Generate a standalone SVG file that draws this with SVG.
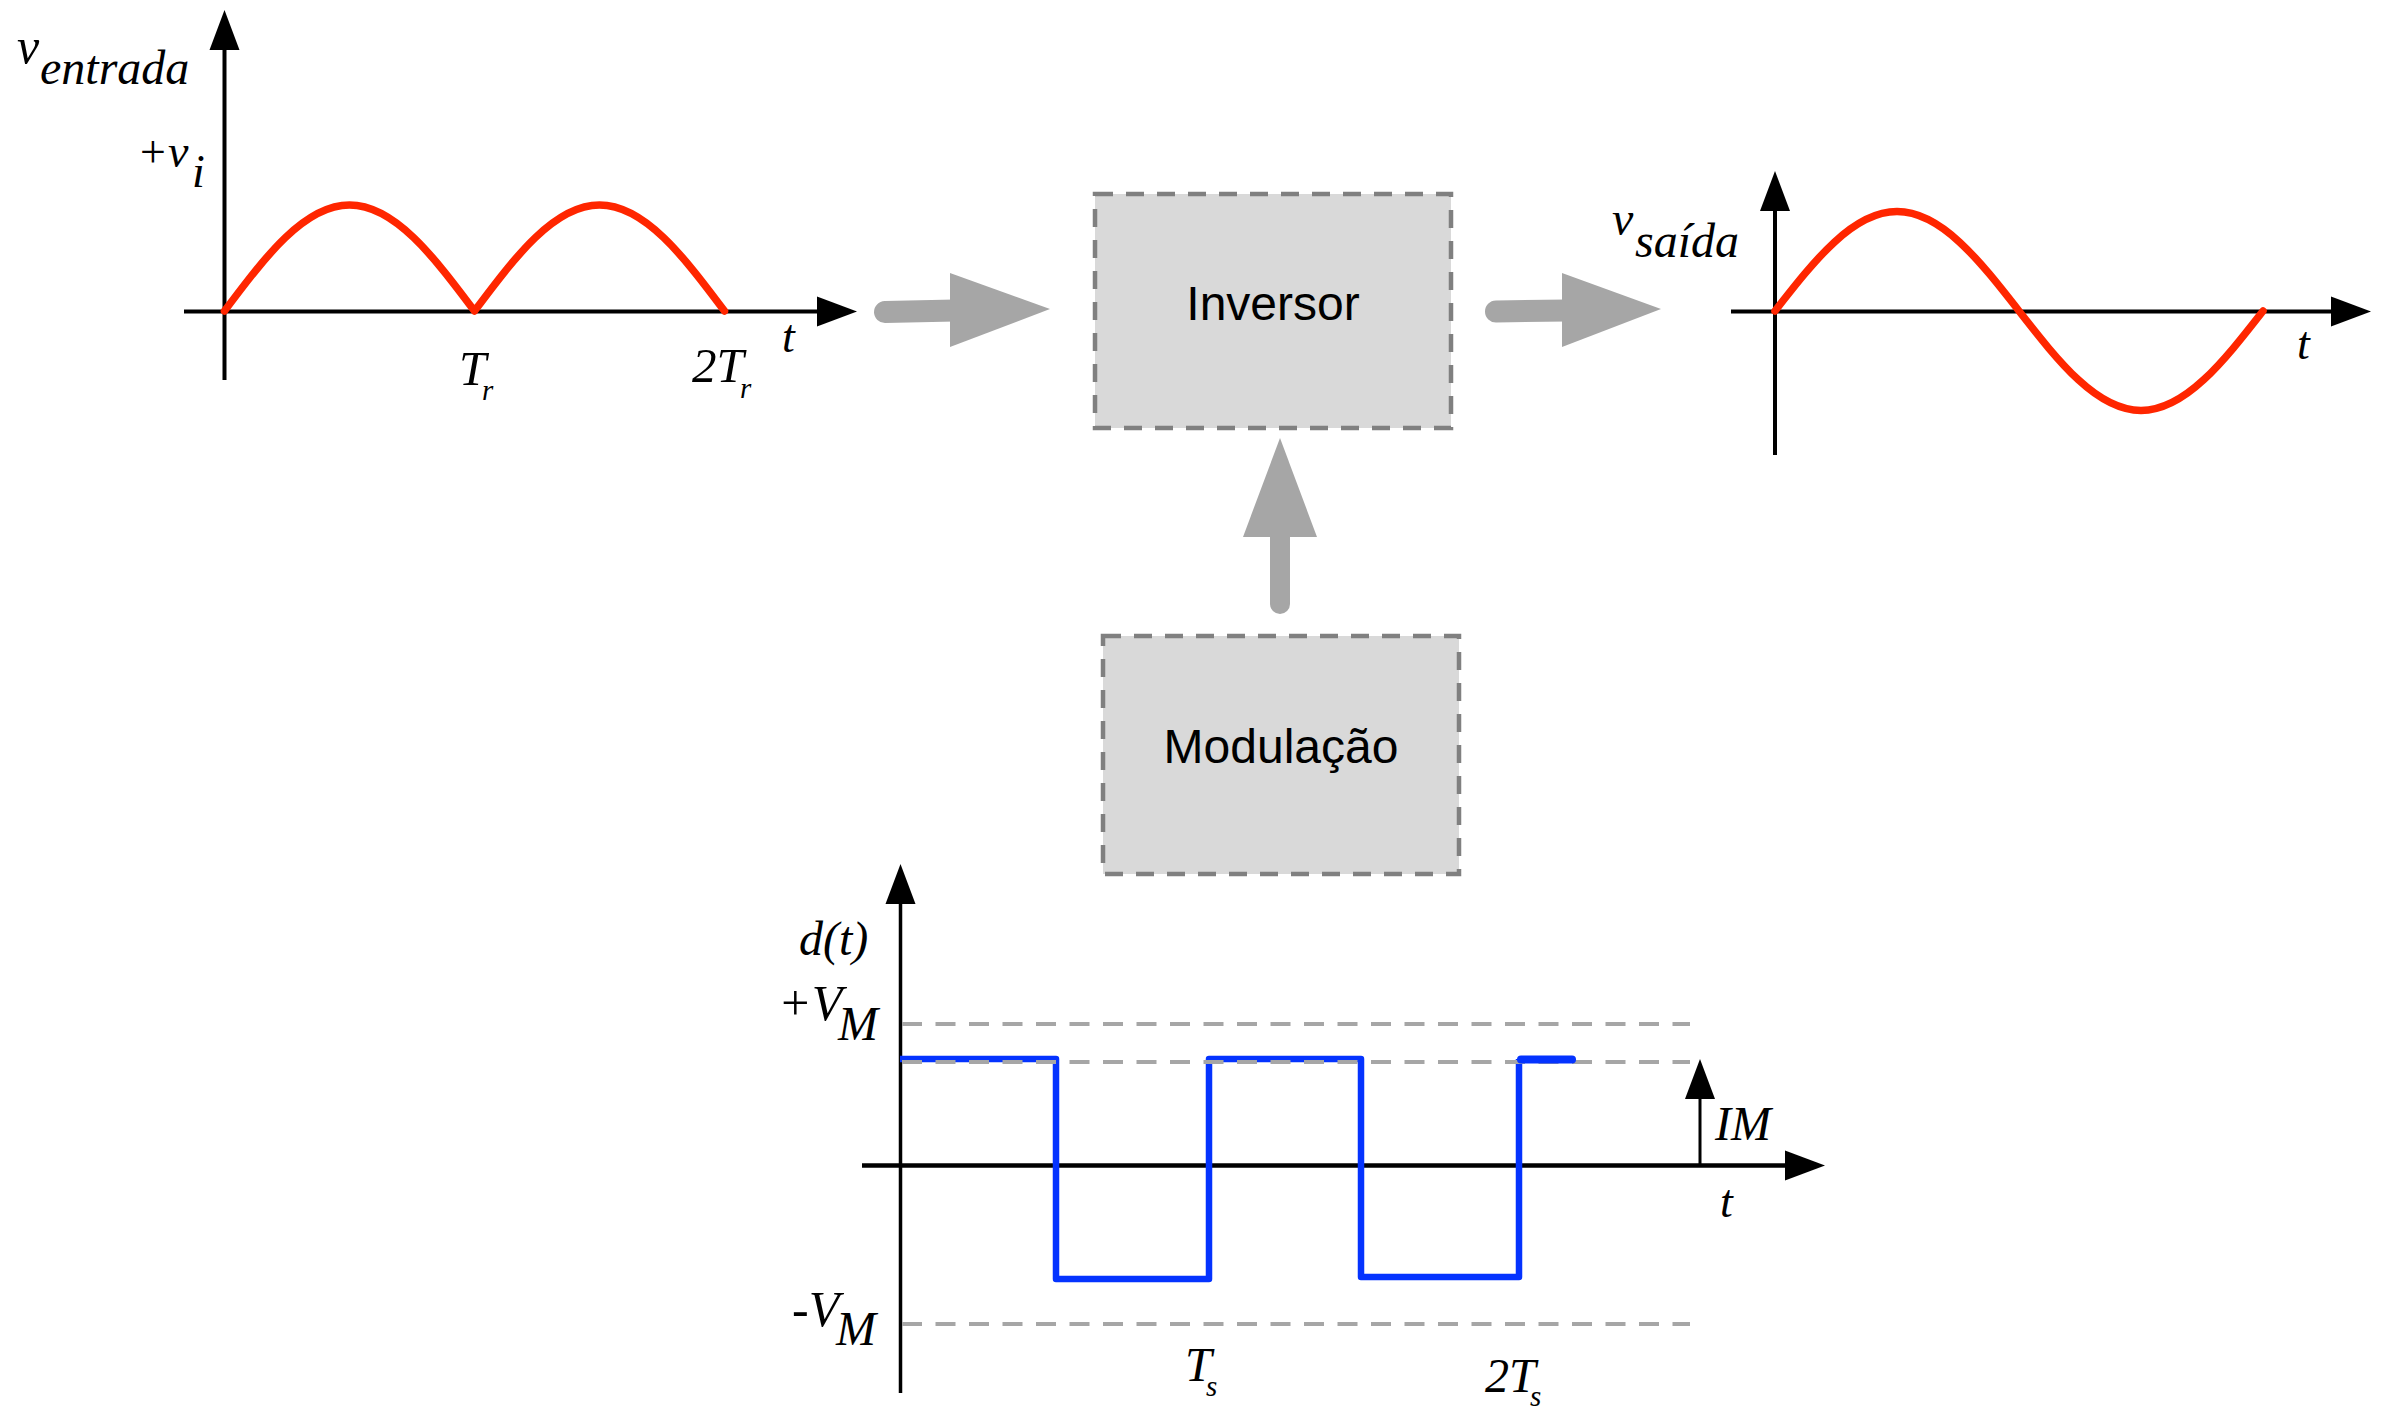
<svg xmlns="http://www.w3.org/2000/svg" width="2382" height="1411" viewBox="0 0 2382 1411">
<style>
.ax{stroke:#000;fill:none}
.lbl{font-family:"Liberation Serif","Times New Roman",serif;font-style:italic;fill:#000}
.box{fill:#d9d9d9;stroke:#808080;stroke-width:4.5;stroke-dasharray:18 13}
.sans{font-family:"Liberation Sans",Arial,sans-serif;font-size:48px;fill:#000;text-anchor:middle}
.red{fill:none;stroke:#ff2600;stroke-width:7.5;stroke-linecap:round;stroke-linejoin:round}
.gd{fill:none;stroke:#a6a6a6;stroke-width:4;stroke-dasharray:20 13.5}
.conn{fill:#a6a6a6}
.shaft{stroke:#a6a6a6;stroke-width:22;stroke-linecap:round;fill:none}
</style>
<defs>
<marker id="ah" markerUnits="userSpaceOnUse" markerWidth="40" markerHeight="30" refX="1" refY="15" orient="auto" overflow="visible">
<path d="M0,0 L40,15 L0,30 z" fill="#000"/>
</marker>
</defs>
<rect width="2382" height="1411" fill="#fff"/>

<g id="graph-entrada">
<line class="ax" stroke-width="4" x1="224.5" y1="380" x2="224.5" y2="49" marker-end="url(#ah)"/>
<line class="ax" stroke-width="4" x1="184" y1="311.5" x2="818" y2="311.5" marker-end="url(#ah)"/>
<path class="red" d="M224.5,311 C265.27,256.7 304.26,205 349.5,205 C394.74,205 433.73,256.7 474.5,311 C515.27,256.7 554.26,205 599.5,205 C644.74,205 683.73,256.7 724.5,311"/>
<text class="lbl" x="17" y="63" font-size="50">v<tspan x="40" y="84" font-size="48">entrada</tspan></text>
<text class="lbl" x="137" y="167" font-size="46">+v<tspan x="192" y="187">i</tspan></text>
<text class="lbl" x="782" y="352" font-size="46">t</text>
<text class="lbl" x="459" y="385" font-size="49">T<tspan x="482" y="400" font-size="29">r</tspan></text>
<text class="lbl" x="692" y="382" font-size="49">2T<tspan x="740" y="398" font-size="29">r</tspan></text>
</g>

<g id="graph-saida">
<line class="ax" stroke-width="4" x1="1775" y1="455" x2="1775" y2="210" marker-end="url(#ah)"/>
<line class="ax" stroke-width="4" x1="1731" y1="311.5" x2="2332" y2="311.5" marker-end="url(#ah)"/>
<path class="red" d="M1775,311 C1814.79,260.03 1852.85,211.5 1897,211.5 C1941.15,211.5 1979.21,260.03 2019,311 C2058.79,361.97 2096.85,410.5 2141,410.5 C2185.15,410.5 2223.21,361.97 2263,311"/>
<text class="lbl" x="1612" y="235" font-size="48">v<tspan x="1635" y="257">saída</tspan></text>
<text class="lbl" x="2297" y="359" font-size="46">t</text>
</g>

<g id="inversor">
<rect class="box" x="1095" y="194" width="356" height="234"/>
<text class="sans" x="1273" y="320">Inversor</text>
</g>

<g id="modulacao">
<rect class="box" x="1103" y="636" width="356" height="238"/>
<text class="sans" x="1281" y="763">Modulação</text>
</g>

<g id="connectors">
<line class="shaft" x1="885" y1="312" x2="955" y2="310.5"/>
<polygon class="conn" points="950,273 1050,309 950,347"/>
<line class="shaft" x1="1496" y1="311.5" x2="1567" y2="310.5"/>
<polygon class="conn" points="1562,273 1661,309 1562,347"/>
<line class="shaft" x1="1280" y1="604" x2="1280" y2="530" style="stroke-width:20"/>
<polygon class="conn" points="1280,438 1317,537 1243,537"/>
</g>

<g id="graph-modulacao">
<line class="ax" stroke-width="3.5" x1="900.5" y1="1393" x2="900.5" y2="903" marker-end="url(#ah)"/>
<line class="ax" stroke-width="4.5" x1="862" y1="1165.5" x2="1786" y2="1165.5" marker-end="url(#ah)"/>
<path d="M900,1059 H1056 V1279 H1209 V1059 H1361 V1277 H1519 V1059" fill="none" stroke="#0433ff" stroke-width="6.5" stroke-linejoin="round"/>
<line class="gd" x1="902" y1="1024" x2="1690" y2="1024"/>
<line class="gd" x1="902" y1="1062" x2="1690" y2="1062"/>
<line class="gd" x1="902" y1="1324" x2="1690" y2="1324"/>
<line x1="1521" y1="1059.5" x2="1572" y2="1059.5" stroke="#0433ff" stroke-width="8" stroke-linecap="round"/>
<line class="ax" stroke-width="3" x1="1700" y1="1165" x2="1700" y2="1098" marker-end="url(#ah)"/>
<text class="lbl" x="799" y="955" font-size="48">d(t)</text>
<text class="lbl" x="778" y="1020" font-size="50">+V<tspan x="838" y="1040" font-size="48">M</tspan></text>
<text class="lbl" x="792" y="1326" font-size="50">-V<tspan x="836" y="1345" font-size="48">M</tspan></text>
<text class="lbl" x="1185" y="1381" font-size="48">T<tspan x="1206" y="1396" font-size="29">s</tspan></text>
<text class="lbl" x="1485" y="1392" font-size="48">2T<tspan x="1530" y="1406" font-size="29">s</tspan></text>
<text class="lbl" x="1715" y="1140" font-size="48">IM</text>
<text class="lbl" x="1720" y="1217" font-size="46">t</text>
</g>
</svg>
